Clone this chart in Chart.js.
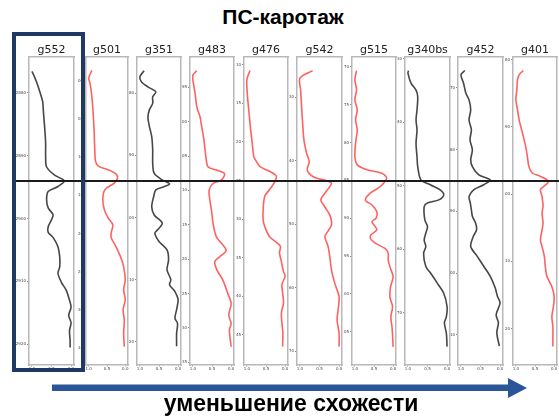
<!DOCTYPE html>
<html>
<head>
<meta charset="utf-8">
<script src="https://cdn.jsdelivr.net/npm/chart.js@4.4.1/dist/chart.umd.min.js"></script>
<style>
  body { margin: 0; background: #fff; }
  #wrap { position: relative; width: 559px; height: 418px; overflow: hidden; font-family: "Liberation Sans", Arial, sans-serif; }
  #title { position: absolute; left: 0; width: 566px; top: 5px; text-align: center; font-weight: bold; font-size: 21px; color: #000; }
  #caption { position: absolute; left: 0; width: 582px; top: 390px; text-align: center; font-weight: bold; font-size: 23px; color: #000; }
  #frame { position: absolute; left: 12px; top: 32px; width: 65px; height: 332px; border: 4.5px solid #1f3864; z-index: 3; }
  #hline { position: absolute; left: 14px; top: 180px; width: 545px; height: 1.5px; background: #1a1a1a; z-index: 2; }
  canvas { position: absolute; }
  svg { position: absolute; left: 0; top: 0; }
</style>
</head>
<body>
<div id="wrap">
  <div id="title">ПС-каротаж</div>
  <div id="hline"></div>
  <div id="frame"></div>
  <svg width="559" height="418">
    <rect x="52" y="384.5" width="460" height="6.5" fill="#2a5597"></rect>
    <polygon points="508,378 527,388 508,398" fill="#2a5597"></polygon>
  </svg>
  <div id="caption">уменьшение схожести</div>
</div>
<script>
// well names, in order of decreasing similarity
var wellNames = ['g552', 'g501', 'g351', 'g483', 'g476', 'g542', 'g515', 'g340bs', 'g452', 'g401'];

// normalised SP curves: depth (m) and value (0..1)
var g552Depth = [2876.6, 2877.1, 2878.4, 2880.0, 2881.4, 2882.7, 2884.3, 2885.9, 2888.0, 2890.2, 2891.8, 2893.1, 2894.0, 2894.9, 2895.7, 2897.0, 2898.3, 2899.4, 2900.2, 2901.3, 2902.2, 2903.0, 2904.5, 2906.1, 2907.7, 2908.7, 2910.1, 2911.4, 2913.0, 2914.1, 2915.4, 2916.6, 2917.8, 2919.4, 2920.5];
var g552Value = [1.0, 0.96, 0.875, 0.79, 0.725, 0.71, 0.69, 0.67, 0.65, 0.65, 0.625, 0.42, 0.17, 0.335, 0.585, 0.625, 0.585, 0.46, 0.5, 0.585, 0.585, 0.46, 0.335, 0.29, 0.29, 0.335, 0.25, 0.125, 0.04, 0.0, 0.06, 0.0, 0.04, 0.025, 0.025];

var g501Depth = [2798.65, 2799.65, 2800.3, 2802.05, 2804.2, 2806.4, 2808.6, 2810.55, 2811.2, 2811.65, 2812.2, 2812.75, 2813.4, 2814.25, 2815.55, 2816.9, 2817.95, 2818.85, 2819.9, 2820.55, 2821.7, 2823.05, 2824.35, 2826.05, 2827.35, 2828.65, 2829.95, 2831.3, 2833.0, 2834.8];
var g501Value = [0.915, 1.0, 0.967, 0.915, 0.88, 0.854, 0.838, 0.813, 0.726, 0.469, 0.256, 0.213, 0.3, 0.556, 0.615, 0.572, 0.469, 0.341, 0.385, 0.385, 0.256, 0.128, 0.044, 0.0, 0.044, 0.0, 0.059, 0.026, 0.044, 0.026];

var g351Depth = [2776.4, 2777.4, 2778.2, 2779.0, 2779.8, 2780.6, 2781.65, 2782.7, 2783.8, 2785.4, 2787.0, 2789.15, 2791.3, 2792.9, 2793.95, 2794.6, 2795.05, 2795.55, 2796.65, 2798.25, 2799.6, 2800.9, 2802.0, 2802.5, 2803.85, 2805.2, 2806.8, 2808.4, 2810.0, 2810.8, 2811.9, 2813.2, 2814.8, 2816.2, 2817.0, 2818.6, 2820.7];
var g351Value = [0.89, 1.0, 0.957, 0.79, 0.583, 0.665, 0.665, 0.75, 0.79, 0.75, 0.69, 0.665, 0.665, 0.625, 0.415, 0.225, 0.375, 0.583, 0.64, 0.69, 0.625, 0.415, 0.54, 0.608, 0.5, 0.29, 0.25, 0.29, 0.19, 0.225, 0.083, 0.0, 0.04, 0.083, 0.015, 0.04, 0.04];

var g483Depth = [2792.6, 2793.25, 2794.45, 2795.9, 2797.85, 2799.3, 2800.75, 2802.7, 2805.15, 2806.6, 2807.05, 2807.55, 2808.5, 2809.0, 2809.95, 2811.4, 2812.9, 2814.8, 2816.75, 2818.7, 2819.65, 2820.4, 2821.6, 2823.05, 2825.0, 2826.45, 2828.15, 2829.35, 2830.3, 2832.75];
var g483Value = [0.897, 1.0, 0.985, 0.941, 0.897, 0.813, 0.769, 0.71, 0.659, 0.6, 0.385, 0.172, 0.256, 0.472, 0.574, 0.556, 0.513, 0.472, 0.385, 0.128, 0.3, 0.428, 0.369, 0.215, 0.087, 0.0, 0.062, 0.0, 0.044, 0.0];

var g476Depth = [2810.75, 2811.95, 2814.1, 2816.25, 2818.4, 2820.15, 2821.9, 2822.3, 2823.2, 2823.8, 2824.45, 2825.3, 2826.2, 2827.05, 2828.8, 2830.1, 2830.95, 2832.25, 2833.1, 2833.55, 2834.4, 2835.5, 2836.8, 2837.4, 2838.5, 2839.55, 2840.85, 2842.15, 2843.45, 2844.75, 2846.5];
var g476Value = [0.919, 1.0, 0.983, 0.943, 0.902, 0.86, 0.82, 0.78, 0.656, 0.41, 0.23, 0.287, 0.41, 0.533, 0.575, 0.575, 0.533, 0.41, 0.206, 0.123, 0.147, 0.098, 0.042, 0.0, 0.084, 0.066, 0.042, 0.098, 0.084, 0.059, 0.066];

var g542Depth = [2825.85, 2827.05, 2828.9, 2831.55, 2834.15, 2836.75, 2838.85, 2840.2, 2841.5, 2842.55, 2843.2, 2843.6, 2845.15, 2846.2, 2847.3, 2848.6, 2850.15, 2851.45, 2852.0, 2853.55, 2855.15, 2857.25, 2859.35, 2861.45, 2863.55, 2865.1, 2867.2, 2869.3];
var g542Value = [0.677, 1.0, 0.982, 0.957, 0.931, 0.898, 0.83, 0.763, 0.814, 0.662, 0.32, 0.193, 0.364, 0.466, 0.364, 0.237, 0.193, 0.32, 0.364, 0.28, 0.237, 0.193, 0.109, 0.0, 0.025, 0.051, 0.0, 0.0];

var g515Depth = [2770.5, 2771.7, 2773.05, 2774.35, 2775.7, 2777.0, 2778.35, 2780.1, 2781.85, 2782.95, 2783.6, 2784.05, 2784.7, 2785.85, 2786.7, 2787.6, 2788.25, 2789.15, 2790.0, 2790.45, 2791.1, 2791.55, 2792.2, 2792.65, 2793.3, 2794.0, 2794.65, 2795.55, 2796.4, 2797.75, 2799.05, 2800.4, 2801.7, 2803.05, 2804.55, 2807.0];
var g515Value = [0.956, 1.0, 0.956, 1.0, 0.938, 0.982, 0.938, 0.982, 1.0, 0.938, 0.682, 0.297, 0.169, 0.341, 0.597, 0.726, 0.554, 0.426, 0.444, 0.554, 0.469, 0.426, 0.579, 0.597, 0.469, 0.213, 0.128, 0.128, 0.085, 0.0, 0.067, 0.085, 0.015, 0.059, 0.026, 0.0];

var g340bsDepth = [2831.85, 2832.25, 2833.85, 2834.9, 2835.95, 2838.05, 2839.6, 2841.2, 2843.3, 2845.4, 2846.95, 2849.05, 2849.85, 2850.65, 2851.4, 2852.2, 2852.7, 2853.25, 2855.35, 2856.4, 2857.45, 2858.5, 2859.55, 2860.6, 2862.7, 2863.75, 2865.3, 2866.9, 2869.0, 2870.6, 2871.6, 2873.2, 2875.3];
var g340bsValue = [0.985, 1.0, 0.918, 0.793, 0.75, 0.768, 0.793, 0.768, 0.793, 0.768, 0.75, 0.668, 0.418, 0.168, 0.085, 0.21, 0.5, 0.585, 0.568, 0.5, 0.543, 0.585, 0.543, 0.6, 0.543, 0.418, 0.25, 0.085, 0.0, 0.018, 0.068, 0.018, 0.0];

var g452Depth = [2867.2, 2867.9, 2869.25, 2870.85, 2871.95, 2873.55, 2875.2, 2876.8, 2878.4, 2880.05, 2881.65, 2882.75, 2884.1, 2884.9, 2885.7, 2886.5, 2887.6, 2888.6, 2889.75, 2890.8, 2891.9, 2893.0, 2894.05, 2895.7, 2897.3, 2898.9, 2900.55, 2902.4, 2903.75, 2904.85, 2906.75, 2908.05, 2909.7, 2911.85];
var g452Value = [0.9, 1.0, 0.933, 0.875, 0.793, 0.75, 0.793, 0.733, 0.768, 0.708, 0.75, 0.708, 0.543, 0.25, 0.418, 0.668, 0.793, 0.763, 0.733, 0.708, 0.625, 0.6, 0.683, 0.75, 0.583, 0.418, 0.25, 0.125, 0.068, 0.0, 0.1, 0.043, 0.083, 0.018];

var g401Depth = [2881.6, 2882.25, 2883.0, 2884.45, 2885.95, 2887.45, 2888.95, 2890.9, 2892.9, 2894.4, 2895.9, 2896.85, 2897.35, 2898.1, 2898.85, 2899.35, 2900.35, 2901.75, 2902.8, 2904.3, 2905.3, 2906.8, 2907.8, 2909.25, 2910.75, 2912.25, 2913.75, 2915.2, 2916.7, 2918.2, 2919.7, 2921.65, 2922.65];
var g401Value = [0.803, 0.915, 0.956, 0.974, 1.0, 0.956, 0.915, 0.828, 0.744, 0.7, 0.659, 0.572, 0.359, 0.146, 0.274, 0.359, 0.315, 0.29, 0.315, 0.29, 0.315, 0.359, 0.315, 0.256, 0.231, 0.187, 0.059, 0.0, 0.018, 0.059, 0.033, 0.033, 0.033];

// depth tick labels per well
var g552Ticks = [2880, 2890, 2900, 2910, 2920];
var g501Ticks = [2800, 2805, 2810, 2815, 2820, 2825, 2830, 2835];
var g351Ticks = [2780, 2790, 2800, 2810, 2820];
var g483Ticks = [2795, 2800, 2805, 2810, 2815, 2820, 2825, 2830, 2835];
var g476Ticks = [2810, 2815, 2820, 2825, 2830, 2835, 2840, 2845];
var g542Ticks = [2830, 2840, 2850, 2860, 2870];
var g515Ticks = [2770, 2775, 2780, 2785, 2790, 2795, 2800, 2805];
var g340bsTicks = [2830, 2840, 2850, 2860, 2870];
var g452Ticks = [2870, 2880, 2890, 2900, 2910];
var g401Ticks = [2880, 2890, 2900, 2910, 2920];

var depthTop = [2874.3, 2796.9, 2774.2, 2790.6, 2809.0, 2823.7, 2768.7, 2829.7, 2865.0, 2879.6];
var depthBottom = [2923.3, 2837.2, 2823.7, 2835.4, 2848.9, 2872.2, 2809.4, 2878.2, 2914.9, 2925.4];
var valueTicks = [0, 0.5, 1];

var depths = [g552Depth, g501Depth, g351Depth, g483Depth, g476Depth, g542Depth, g515Depth, g340bsDepth, g452Depth, g401Depth];
var values = [g552Value, g501Value, g351Value, g483Value, g476Value, g542Value, g515Value, g340bsValue, g452Value, g401Value];
var ticks = [g552Ticks, g501Ticks, g351Ticks, g483Ticks, g476Ticks, g542Ticks, g515Ticks, g340bsTicks, g452Ticks, g401Ticks];

// layout of the panels (plot area, px)
var plotLeft = [29, 86, 137, 190, 244, 297, 352, 405, 458, 513];
var plotRight = [74, 128, 181, 234, 288, 342, 396, 450, 503, 557];
var plotTop = 57, plotBottom = 365;
var blackWells = ['g552', 'g351', 'g340bs', 'g452'];

var wrap = document.getElementById('wrap');
var frameCol = '#b8b8b8';
var tickFont = { family: 'DejaVu Sans', size: 4 };

wellNames.forEach(function (name, i) {
  var cv = document.createElement('canvas');
  var w = plotRight[i] - plotLeft[i] + 16 + 4;
  cv.width = w;
  cv.height = plotBottom + 10 - 45;
  cv.style.left = (plotLeft[i] - 16) + 'px';
  cv.style.top = '45px';
  cv.style.width = w + 'px';
  cv.style.height = cv.height + 'px';
  wrap.insertBefore(cv, document.getElementById('hline'));

  var pts = depths[i].map(function (d, k) { return { x: values[i][k], y: d }; });
  var col = blackWells.indexOf(name) >= 0 ? 'rgba(50,50,50,0.9)' : 'rgba(255,80,80,0.9)';
  var full = (i === 0);

  new Chart(cv, {
    type: 'scatter',
    data: {
      datasets: [{
        data: pts,
        showLine: true,
        borderColor: col,
        borderWidth: 1.6,
        pointRadius: 0,
        tension: 0.3
      }]
    },
    options: {
      responsive: false,
      animation: false,
      devicePixelRatio: 1,
      layout: { padding: { left: 0, right: 4, top: 0, bottom: 0 } },
      plugins: {
        legend: { display: false },
        tooltip: { enabled: false },
        title: {
          display: true,
          fullSize: false,
          text: name,
          color: '#222',
          font: { family: 'DejaVu Sans', size: 11, weight: 'normal', lineHeight: 1 },
          padding: { top: 0, bottom: 1 }
        }
      },
      scales: {
        x: {
          type: 'linear', position: 'bottom', reverse: true, min: -0.075, max: 1.075,
          grid: { display: true, drawOnChartArea: false, tickLength: 1.5, color: '#888' },
          border: { color: frameCol, width: 1.5 },
          ticks: { font: tickFont, color: '#444', padding: 0.5, autoSkip: false, maxRotation: 0,
            callback: function (v) { return v.toFixed(1); } },
          afterBuildTicks: function (s) { s.ticks = valueTicks.map(function (v) { return { value: v }; }); },
          afterFit: function (s) { s.height = 10; }
        },
        xTop: {
          type: 'linear', position: 'top', reverse: true, min: -0.075, max: 1.075,
          grid: { display: false },
          border: { color: frameCol, width: 1.5 },
          ticks: { font: tickFont, color: '#444', padding: 3, autoSkip: false, maxRotation: 0,
            callback: function (v) { return v.toFixed(1); } },
          afterBuildTicks: function (s) { s.ticks = [{ value: 1 }, { value: 0 }]; },
          afterFit: function (s) { s.height = 0; }
        },
        y: {
          type: 'linear', position: 'left', reverse: true, min: depthTop[i], max: depthBottom[i],
          grid: { display: true, drawOnChartArea: false, tickLength: 2, color: '#888' },
          border: { color: frameCol, width: 1.5 },
          ticks: { font: tickFont, color: '#444', padding: 1, autoSkip: false,
            callback: function (v) {
              v = Math.round(v);
              return full ? String(v) : String(v % 100).padStart(2, '0');
            } },
          afterBuildTicks: function (s) { s.ticks = ticks[i].map(function (v) { return { value: v }; }); },
          afterFit: function (s) { s.width = 16; }
        },
        yRight: {
          type: 'linear', position: 'right', reverse: true, min: depthTop[i], max: depthBottom[i],
          grid: { display: false },
          border: { color: frameCol, width: 1.5 },
          ticks: { display: false },
          afterFit: function (s) { s.width = 0; }
        }
      }
    }
  });
});
</script>
</body>
</html>
